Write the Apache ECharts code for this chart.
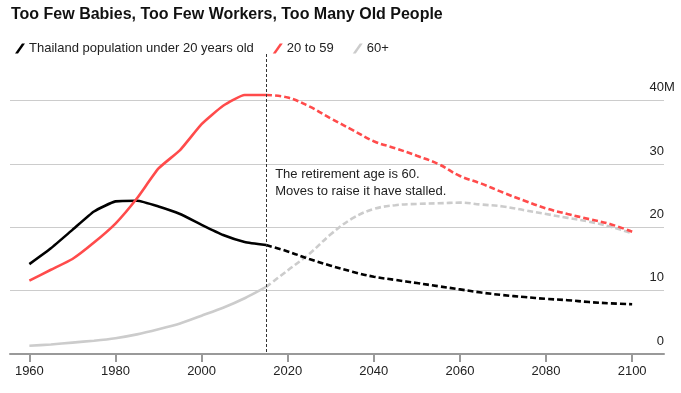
<!DOCTYPE html>
<html>
<head>
<meta charset="utf-8">
<script src="https://cdn.jsdelivr.net/npm/echarts@6/dist/echarts.min.js"></script>
<style>
html,body{margin:0;padding:0;background:#fff;}
#c{width:681px;height:393px;}
</style>
</head>
<body>
<div id="c"></div>
<script>
const titleText = 'Too Few Babies, Too Few Workers, Too Many Old People';
const seriesNames = ['Thailand population under 20 years old', '20 to 59', '60+'];
const histYears = [1960,1965,1970,1975,1980,1985,1990,1995,2000,2005,2010,2015];
const projYears = [2015,2020,2025,2030,2035,2040,2045,2050,2055,2060,2065,2070,2075,2080,2085,2090,2095,2100];
const under20Hist = [14.2,16.7,19.6,22.5,24.1,24.2,23.3,22.1,20.4,18.8,17.7,17.2];
const under20Proj = [17.2,16.2,15.0,13.95,13.0,12.2,11.7,11.2,10.7,10.2,9.7,9.3,9.0,8.7,8.5,8.2,8.0,7.85];
const mid20to59Hist = [11.6,13.3,15.0,17.6,20.6,24.6,29.3,32.2,36.3,39.2,40.9,40.9];
const mid20to59Proj = [40.9,40.5,39.1,37.2,35.4,33.6,32.5,31.3,30.0,28.1,26.9,25.5,24.2,23.0,22.1,21.3,20.5,19.3];
const over60Hist = [1.3,1.5,1.8,2.1,2.5,3.1,3.9,4.8,6.05,7.3,8.8,10.6];
const over60Proj = [10.6,13.2,15.8,18.9,21.4,22.9,23.5,23.7,23.8,23.9,23.6,23.3,22.7,22.1,21.5,20.9,20.1,19.05];
const xTicks = [1960,1980,2000,2020,2040,2060,2080,2100];
const yTicks = [0,10,20,30,40];
const retirementYear = 2015;
const annotation = 'The retirement age is 60.\nMoves to raise it have stalled.';

const colors = ['#000000', '#ff4b4b', '#cccccc'];
const FONT = '"Liberation Sans", Arial, Helvetica, sans-serif';

function pairs(xs, ys){ return xs.map((x,i)=>[x, ys[i]]); }

const groups = [
  [under20Hist, under20Proj],
  [mid20to59Hist, mid20to59Proj],
  [over60Hist, over60Proj]
];
const series = [];
// draw order: gray, black, red (red on top)
[2,0,1].forEach(gi => {
  series.push({
    name: seriesNames[gi], type: 'line', data: pairs(histYears, groups[gi][0]),
    symbol: 'none', smooth: 0.15, color: colors[gi], clip: false,
    lineStyle: {color: colors[gi], width: 2.6}, silent: true, z: 3
  });
  series.push({
    name: seriesNames[gi], type: 'line', data: pairs(projYears, groups[gi][1]),
    symbol: 'none', smooth: 0.4, color: colors[gi], clip: false,
    lineStyle: {color: colors[gi], width: 2.6, type: [6, 3]}, silent: true, z: 3
  });
});

const chart = echarts.init(document.getElementById('c'), null, {renderer: 'canvas'});
chart.setOption({
  animation: false,
  backgroundColor: '#ffffff',
  title: {
    text: titleText, left: 11, top: 7, padding: 0,
    textStyle: {fontFamily: FONT, fontSize: 16, fontWeight: 'bold', color: '#111'}
  },
  legend: {
    data: seriesNames, left: 15, top: 42, padding: 0,
    itemWidth: 10, itemHeight: 10, itemGap: 19,
    icon: 'path://M0,10 L7,0 L10,0 L3,10 Z',
    itemStyle: {borderWidth: 0},
    textStyle: {fontFamily: FONT, fontSize: 13, color: '#222', padding: [0,0,0,-1]},
    selectedMode: false
  },
  grid: {left: 10, right: 17, top: 100.7, bottom: 39, containLabel: false},
  xAxis: {
    type: 'value', min: 1955.5, max: 2107.4,
    splitLine: {show: false},
    axisLine: {show: true, lineStyle: {color: '#999', width: 2}},
    axisTick: {show: true, customValues: xTicks, length: 8, lineStyle: {color: '#999', width: 2}},
    axisLabel: {customValues: xTicks, margin: 11, fontFamily: FONT, fontSize: 13, color: '#222',
      formatter: v => String(v)}
  },
  yAxis: {
    type: 'value', position: 'right', min: 0, max: 40, interval: 10,
    axisLine: {show: false}, axisTick: {show: false},
    splitLine: {show: true, lineStyle: {color: '#cccccc', width: 1}},
    axisLabel: {
      inside: true, margin: 0, verticalAlign: 'bottom', lineHeight: 14,
      padding: [0, 0, 6, 0],
      fontFamily: FONT, fontSize: 13, color: '#222',
      showMinLabel: true, showMaxLabel: true,
      formatter: v => v === 40 ? '{n|40}{m|M}' : String(v),
      rich: {
        n: {fontFamily: FONT, fontSize: 13, color: '#222', align: 'left'},
        m: {fontFamily: FONT, fontSize: 13, color: '#222', width: 0, align: 'left'}
      }
    }
  },
  series: series
});

const xr = chart.convertToPixel({xAxisIndex: 0}, retirementYear);
const yBottom = chart.convertToPixel({yAxisIndex: 0}, 0);
chart.setOption({
  graphic: [
    {
      type: 'line', silent: true, z: 10,
      shape: {x1: Math.round(xr) + 0.5, y1: 54, x2: Math.round(xr) + 0.5, y2: yBottom},
      style: {stroke: '#333', lineWidth: 1, lineDash: [3, 2]}
    },
    {
      type: 'text', silent: true, z: 10,
      x: xr + 9, y: 166,
      style: {text: annotation, font: '13px ' + FONT, fill: '#222', lineHeight: 17}
    }
  ]
});
</script>
</body>
</html>
